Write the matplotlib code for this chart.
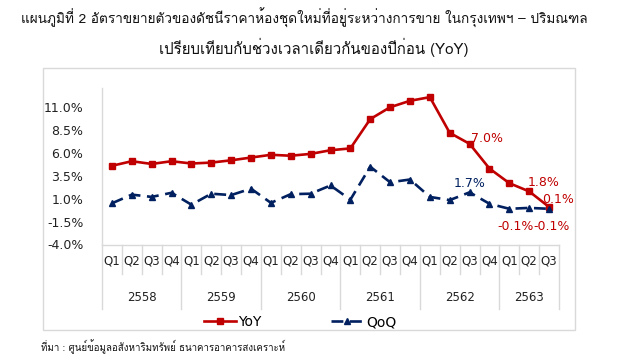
import matplotlib
matplotlib.use('Agg')
from matplotlib import pyplot as plt
from matplotlib import font_manager
from matplotlib.patches import Rectangle

# find an installed family that has Thai glyphs
thai_fonts = []
try:
    from fontTools.ttLib import TTFont
    for f in font_manager.fontManager.ttflist:
        try:
            cmap = TTFont(f.fname, fontNumber=0, lazy=True).getBestCmap()
        except Exception:
            continue
        if cmap and 0x0E01 in cmap and f.name not in thai_fonts:
            thai_fonts.append(f.name)
except ImportError:
    pass
if 'Loma' in thai_fonts:
    thai_fonts.insert(0, 'Loma')

years = ['2558', '2559', '2560', '2561', '2562', '2563']
quarters = ['Q1', 'Q2', 'Q3', 'Q4'] * 5 + ['Q1', 'Q2', 'Q3']
yoy = [4.6, 5.1, 4.8, 5.1, 4.85, 4.95, 5.2, 5.5, 5.8, 5.7, 5.9, 6.3,
       6.5, 9.7, 11.0, 11.7, 12.1, 8.2, 7.0, 4.3, 2.7, 1.8, 0.1]
qoq = [0.5, 1.45, 1.2, 1.65, 0.35, 1.55, 1.4, 2.1, 0.55, 1.5, 1.55, 2.45,
       0.9, 4.5, 2.8, 3.1, 1.2, 0.85, 1.7, 0.45, -0.1, 0.0, -0.1]
yticks = [-4.0, -1.5, 1.0, 3.5, 6.0, 8.5, 11.0]

red = '#C00000'
navy = '#002060'
grey = '#D9D9D9'

fam = thai_fonts[:1] + ['DejaVu Sans']

fig = plt.figure(figsize=(6.28, 3.63), dpi=100)
ax = fig.add_axes([102/628, 1-244.5/363, 457/628, 156.5/363])

x = list(range(len(yoy)))
ax.plot(x, yoy, color=red, lw=1.9, marker='s', ms=4.5, label='YoY')
ax.plot(x, qoq, color=navy, lw=1.9, ls=(0, (4.5, 2.5)), marker='^', ms=4, label='QoQ')

ax.set_xlim(-0.5, len(yoy) - 0.5)
ax.set_ylim(-4.0, 13.1)
ax.set_yticks(yticks)
ax.set_yticklabels(['%.1f%%' % v for v in yticks], fontsize=9, color='#222222')
ax.tick_params(axis='y', length=0, pad=13.5)
ax.set_xticks([])
for s in ['top', 'right']:
    ax.spines[s].set_visible(False)
for s in ['left', 'bottom']:
    ax.spines[s].set_color(grey)
    ax.spines[s].set_linewidth(1)

# two level category axis
tr = ax.get_xaxis_transform()
for i, q in enumerate(quarters):
    ax.text(i, -0.108, q, transform=tr, ha='center', va='center', fontsize=8.5, color='#222222')
for i in range(len(quarters) + 1):
    low = -0.414 if i % 4 == 0 or i == len(quarters) else -0.19
    ax.plot([i - 0.5, i - 0.5], [0, low], transform=tr, color=grey, lw=1, clip_on=False)
for k, yr in enumerate(years):
    n = min(4, len(quarters) - 4*k)
    ax.text(4*k + (n - 1)/2, -0.338, yr, transform=tr, ha='center', va='center', fontsize=8.5, color='#222222')

# data labels
labs = [(18, yoy[18], '7.0%', red, (17, 5)),
        (21, yoy[21], '1.8%', red, (14, 9)),
        (22, yoy[22], '0.1%', red, (9, 7)),
        (18, qoq[18], '1.7%', navy, (0, 9)),
        (20, qoq[20], '-0.1%', red, (6, -18)),
        (22, qoq[22], '-0.1%', red, (2, -18))]
for i, v, t, c, off in labs:
    ax.annotate(t, (i, v), xytext=off, textcoords='offset pixels', ha='center', va='center',
                fontsize=9, color=c)

leg = fig.legend(loc='center', bbox_to_anchor=(300/628, 1-322/363), ncol=2, frameon=False,
                 fontsize=10, handlelength=2.3, columnspacing=5, handletextpad=0.2)

fig.patches.append(Rectangle((43/628, 1-330/363), 532/628, 262/363, transform=fig.transFigure,
                             fill=False, edgecolor=grey, lw=1))

fig.text(304/628, 1-18/363, 'แผนภูมิที่ 2 อัตราขยายตัวของดัชนีราคาห้องชุดใหม่ที่อยู่ระหว่างการขาย ในกรุงเทพฯ – ปริมณฑล',
         ha='center', va='center', fontsize=9.8, family=fam, color='#111111')
fig.text(314/628, 1-47/363, 'เปรียบเทียบกับช่วงเวลาเดียวกันของปีก่อน (YoY)',
         ha='center', va='center', fontsize=10.8, family=fam, color='#111111')
fig.text(41/628, 1-347/363, 'ที่มา : ศูนย์ข้อมูลอสังหาริมทรัพย์ ธนาคารอาคารสงเคราะห์',
         ha='left', va='center', fontsize=7, family=fam, color='#111111')

fig.savefig('out.png', dpi=100)
